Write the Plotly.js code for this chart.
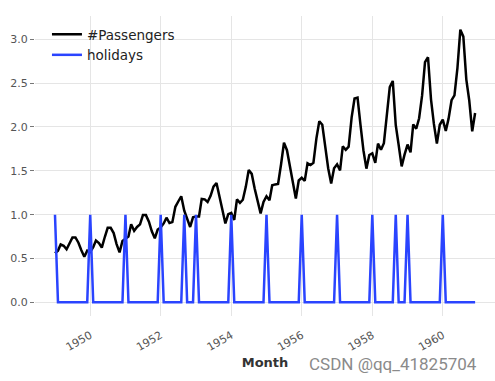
<!DOCTYPE html>
<html>
<head>
<meta charset="utf-8">
<script src="https://cdn.plot.ly/plotly-3.0.1.min.js"></script>
<style>html,body{margin:0;padding:0;background:#fff}#chart{width:495px;height:381px}</style>
</head>
<body>
<div id="chart"></div>
<script>
const startMonth = "1949-01";
const seriesNames = ["#Passengers", "holidays"];
const passengers = [
  0.560,0.590,0.660,0.645,0.605,0.675,0.740,0.740,0.680,0.595,0.520,0.590,
  0.575,0.630,0.705,0.675,0.625,0.745,0.850,0.850,0.790,0.665,0.570,0.700,
  0.725,0.750,0.890,0.815,0.860,0.890,0.995,0.995,0.920,0.810,0.730,0.830,
  0.855,0.900,0.965,0.905,0.915,1.090,1.150,1.210,1.045,0.955,0.860,0.970,
  0.980,0.980,1.180,1.175,1.145,1.215,1.320,1.360,1.185,1.055,0.900,1.005,
  1.020,0.940,1.175,1.135,1.170,1.320,1.510,1.465,1.295,1.145,1.015,1.145,
  1.210,1.165,1.335,1.345,1.350,1.575,1.820,1.735,1.560,1.370,1.185,1.390,
  1.420,1.385,1.585,1.565,1.590,1.870,2.065,2.025,1.775,1.530,1.355,1.530,
  1.575,1.505,1.780,1.740,1.775,2.110,2.325,2.335,2.020,1.735,1.525,1.680,
  1.700,1.590,1.810,1.740,1.815,2.175,2.455,2.525,2.020,1.795,1.550,1.685,
  1.800,1.710,2.030,1.980,2.100,2.360,2.740,2.795,2.315,2.035,1.810,2.025,
  2.085,1.955,2.095,2.305,2.360,2.675,3.110,3.030,2.540,2.305,1.950,2.160
];
const holidays = [
  1,0,0,0,0,0,0,0,0,0,0,0,
  1,0,0,0,0,0,0,0,0,0,0,0,
  1,0,0,0,0,0,0,0,0,0,0,0,
  1,0,0,0,0,0,0,0,1,0,0,0,
  1,0,0,0,0,0,0,0,0,0,0,0,
  1,0,0,0,0,0,0,0,0,0,0,0,
  1,0,0,0,0,0,0,0,0,0,0,0,
  1,0,0,0,0,0,0,0,0,0,0,0,
  1,0,0,0,0,0,0,0,0,0,0,0,
  1,0,0,0,0,0,0,0,1,0,0,0,
  1,0,0,0,0,0,0,0,0,0,0,0,
  1,0,0,0,0,0,0,0,0,0,0,0
];
const yTicks = [0, 0.5, 1.0, 1.5, 2.0, 2.5, 3.0];
const yTickText = ["0.0", "0.5", "1.0", "1.5", "2.0", "2.5", "3.0"];

const months = passengers.map((_, i) => {
  const y = 1949 + Math.floor(i / 12), m = (i % 12) + 1;
  return y + "-" + String(m).padStart(2, "0") + "-01";
});

const traces = [
  {x: months, y: passengers, name: seriesNames[0], mode: "lines",
   line: {color: "#000000", width: 2.5}},
  {x: months, y: holidays, name: seriesNames[1], mode: "lines",
   line: {color: "#2a44ff", width: 2.5}}
];

const layout = {
  width: 495, height: 381,
  margin: {l: 35, r: 0, t: 16, b: 65},
  paper_bgcolor: "#fff", plot_bgcolor: "#fff",
  font: {family: "DejaVu Sans", color: "#555"},
  showlegend: true,
  legend: {x: 0.026, y: 0.99, xanchor: "left", yanchor: "top",
    bgcolor: "rgba(0,0,0,0)", font: {size: 13.5, color: "#222"}, itemwidth: 30},
  xaxis: {type: "date", range: ["1948-06-08", "1961-06-25"],
    tick0: "1950-01-01", dtick: "M24", tickformat: "%Y", tickangle: -30,
    showgrid: true, gridcolor: "#e5e5e5", gridwidth: 1, zeroline: false,
    showline: false, ticks: "", ticklabelstandoff: 10, tickfont: {size: 11, color: "#555"},
    title: {text: "Month", font: {size: 13, color: "#333", family: "DejaVu Sans", weight: "bold"}, standoff: 5},
    automargin: false},
  yaxis: {range: [-0.1555, 3.2655], tickvals: yTicks, ticktext: yTickText,
    showgrid: true, gridcolor: "#e5e5e5", gridwidth: 1, zeroline: false,
    showline: false, ticks: "outside", ticklen: 4, tickcolor: "#777",
    tickfont: {size: 11, color: "#555"}, automargin: false},
  annotations: [{text: "CSDN @qq_41825704", xref: "paper", yref: "paper",
    x: 1.0, y: 0, xanchor: "right", yanchor: "middle", yshift: -48, xshift: -16,
    showarrow: false, font: {family: "Roboto", size: 17, color: "#8a8a8a"}}]
};

Plotly.newPlot("chart", traces, layout, {displayModeBar: false, staticPlot: true});
</script>
</body>
</html>
